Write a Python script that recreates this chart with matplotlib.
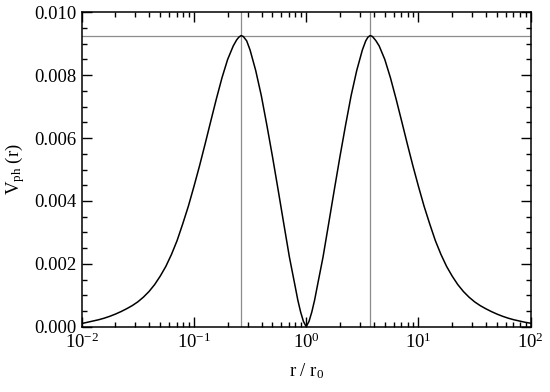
import numpy as np
import matplotlib
matplotlib.use("Agg")
import matplotlib.pyplot as plt
from matplotlib.ticker import MultipleLocator, LogLocator, NullFormatter

plt.rcParams["font.family"] = "serif"
plt.rcParams["font.serif"] = ["Liberation Serif", "DejaVu Serif"]
plt.rcParams["mathtext.fontset"] = "custom"
plt.rcParams["mathtext.rm"] = "Liberation Serif"
plt.rcParams["mathtext.it"] = "Liberation Serif:italic"

# valeurs : log10(r/r0) et V_ph(r)
log_r_gauche = [-2.00, -1.95, -1.90, -1.85, -1.80, -1.75, -1.70, -1.65, -1.60,
                -1.55, -1.50, -1.45, -1.40, -1.35, -1.30, -1.25, -1.20, -1.15,
                -1.10, -1.05, -1.00, -0.95, -0.90, -0.85, -0.80, -0.75, -0.70,
                -0.65, -0.62, -0.60, -0.58, -0.56, -0.53, -0.50, -0.45, -0.40,
                -0.35, -0.30, -0.25, -0.20, -0.15, -0.10, -0.075, -0.05,
                -0.025, 0.00]
v_gauche = [0.00010, 0.00014, 0.00018, 0.00022, 0.00027, 0.00033, 0.00040,
            0.00048, 0.00057, 0.00067, 0.00079, 0.00094, 0.00112, 0.00134,
            0.00161, 0.00192, 0.00230, 0.00274, 0.00327, 0.00383, 0.00446,
            0.00512, 0.00582, 0.00654, 0.00725, 0.00792, 0.00850, 0.00893,
            0.00912, 0.00921, 0.00926, 0.00923, 0.00909, 0.00880, 0.00815,
            0.00735, 0.00640, 0.00540, 0.00435, 0.00328, 0.00222, 0.00131,
            0.00085, 0.00047, 0.00017, 0.00000]

log_r_droite = [0.025, 0.05, 0.075, 0.10, 0.15, 0.20, 0.25, 0.30, 0.35, 0.40,
                0.45, 0.50, 0.53, 0.55, 0.57, 0.59, 0.62, 0.65, 0.70, 0.75,
                0.80, 0.85, 0.90, 0.95, 1.00, 1.05, 1.10, 1.15, 1.20, 1.25,
                1.30, 1.35, 1.40, 1.45, 1.50, 1.55, 1.60, 1.65, 1.70, 1.75,
                1.80, 1.85, 1.90, 1.95, 2.00]
v_droite = [0.00017, 0.00047, 0.00085, 0.00131, 0.00222, 0.00328, 0.00435,
            0.00540, 0.00640, 0.00735, 0.00815, 0.00880, 0.00909, 0.00921,
            0.00926, 0.00923, 0.00910, 0.00893, 0.00850, 0.00792, 0.00725,
            0.00654, 0.00582, 0.00512, 0.00446, 0.00383, 0.00327, 0.00274,
            0.00230, 0.00192, 0.00161, 0.00134, 0.00112, 0.00094, 0.00079,
            0.00067, 0.00057, 0.00048, 0.00040, 0.00033, 0.00027, 0.00022,
            0.00018, 0.00014, 0.00011]

# position des maxima et hauteur
r_max = [0.264, 3.67]
v_max = 0.00926

r = 10.0 ** np.array(log_r_gauche + log_r_droite)
v = np.array(v_gauche + v_droite)

fig = plt.figure(figsize=(5.5, 3.92), dpi=100)
ax = fig.add_axes([0.1485, 0.1666, 0.8165, 0.802])

ax.axhline(v_max, color="#8c8c8c", lw=0.9, zorder=1)
for rm in r_max:
    ax.axvline(rm, color="#8c8c8c", lw=0.9, zorder=1)
ax.plot(r, v, color="black", lw=1.1, zorder=2, solid_joinstyle="round")

ax.set_xscale("log")
ax.set_xlim(1e-2, 1e2)
ax.set_ylim(0, 0.010)
ax.xaxis.set_major_locator(LogLocator(base=10, numticks=10))
ax.xaxis.set_minor_locator(LogLocator(base=10, subs=np.arange(2, 10), numticks=20))
ax.xaxis.set_minor_formatter(NullFormatter())
ax.yaxis.set_major_locator(MultipleLocator(0.002))
ax.yaxis.set_minor_locator(MultipleLocator(0.0005))
ax.yaxis.set_major_formatter(plt.FuncFormatter(lambda y, p: f"{y:.3f}"))

ax.tick_params(which="both", direction="in", top=True, right=True, width=1.0,
               labelsize=13.5, colors="black")
ax.tick_params(which="major", length=7, pad=4)
ax.tick_params(which="minor", length=3.5)
for s in ax.spines.values():
    s.set_linewidth(1.1)

ax.set_xlabel(r"r / r$_0$", fontsize=13.5, labelpad=7)
ax.set_ylabel(r"V$_{\rm ph}$ (r)", fontsize=13.5, labelpad=5)

plt.savefig("out.png", dpi=100)
plt.close()
